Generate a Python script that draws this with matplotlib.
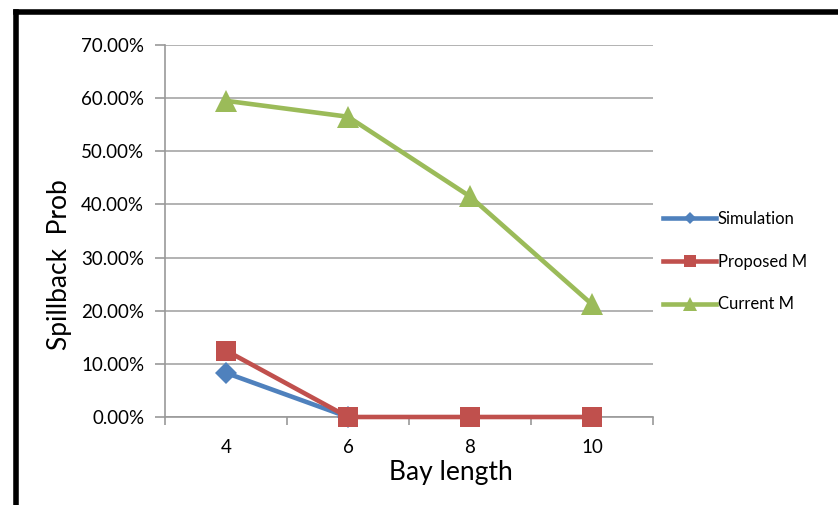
import matplotlib
matplotlib.use("Agg")
import matplotlib.pyplot as plt
from matplotlib.lines import Line2D
from matplotlib.ticker import FuncFormatter, FixedLocator

plt.rcParams['font.family'] = ['Lato', 'DejaVu Sans']

bay_length = ["4", "6", "8", "10"]
simulation = [8.3, 0.0]          # only first two points shown
proposed_m = [12.5, 0.0, 0.0, 0.0]
current_m = [59.5, 56.5, 41.5, 21.2]

series = [
    ("Simulation", simulation, "#4F81BD", "D", 11),
    ("Proposed M", proposed_m, "#C0504D", "s", 15),
    ("Current M", current_m, "#9BBB59", "^", 16),
]

fig = plt.figure(figsize=(8.38, 5.05), dpi=100)
ax = fig.add_axes([165 / 838, 1 - 417 / 505, (653 - 165) / 838, (417 - 45) / 505])

x = list(range(len(bay_length)))
for name, vals, col, mk, ms in series:
    ax.plot(x[:len(vals)], vals, color=col, lw=3.3, marker=mk, markersize=ms,
            markeredgewidth=0, label=name, zorder=3, clip_on=False)

ax.set_xlim(-0.5, len(bay_length) - 0.5)
ax.set_ylim(0, 70)
ax.set_xticks(x)
ax.set_xticklabels(bay_length)
ax.xaxis.set_minor_locator(FixedLocator([i - 0.5 for i in range(len(bay_length) + 1)]))
ax.tick_params(axis='x', which='major', length=0, pad=16, labelsize=13.5)
ax.tick_params(axis='x', which='minor', length=6, width=1.2, color='#999999', direction='out')
ax.set_yticks(range(0, 71, 10))
ax.yaxis.set_major_formatter(FuncFormatter(lambda v, p: f"{v:.2f}%"))
ax.tick_params(axis='y', length=7, width=1.2, color='#999999', labelsize=13.5, pad=8)

ax.grid(axis='y', color='#A6A6A6', lw=1.2, zorder=0)
for s in ['top', 'right']:
    ax.spines[s].set_visible(False)
for s in ['left', 'bottom']:
    ax.spines[s].set_color('#999999')
    ax.spines[s].set_linewidth(1.2)

ax.set_xlabel("Bay length", fontsize=19)
ax.xaxis.set_label_coords(0.586, -0.115)
ax.set_ylabel("Spillback  Prob", fontsize=19)
ax.yaxis.set_label_coords(-0.19, 0.41)

handles = [Line2D([0], [0], color=c, lw=3.3, marker=m, markersize=ms * 0.6,
                  markeredgewidth=0) for _, _, c, m, ms in series]
fig.legend(handles, [s[0] for s in series], loc='upper left',
           bbox_to_anchor=(648 / 838, 1 - 196 / 505), frameon=False,
           fontsize=12, handlelength=3.2, handletextpad=0.1, labelspacing=1.6)

# outer black frame (partially cropped)
fig.add_artist(Line2D([15.5 / 838, 15.5 / 838], [0, 1 - 11.5 / 505], color='black', lw=4,
                      transform=fig.transFigure, solid_capstyle='projecting'))
fig.add_artist(Line2D([15.5 / 838, 1], [1 - 11.5 / 505, 1 - 11.5 / 505], color='black', lw=4,
                      transform=fig.transFigure, solid_capstyle='projecting'))

fig.savefig("out.png", dpi=100)
